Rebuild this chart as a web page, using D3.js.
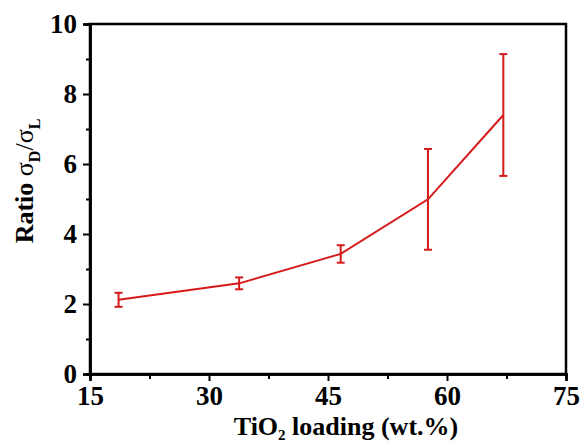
<!DOCTYPE html>
<html><head><meta charset="utf-8">
<script src="https://cdn.jsdelivr.net/npm/d3@7"></script>
<style>body{margin:0;background:#fff}</style>
</head><body>
<svg id="c" width="582" height="448"></svg>
<script>
const loading = [18.6, 33.8, 46.6, 57.6, 67.1];
const ratio = [2.12, 2.59, 3.43, 4.99, 7.40];
const errs = [0.2, 0.17, 0.25, 1.44, 1.74];
const xTicks = [15, 30, 45, 60, 75];
const yTicks = [0, 2, 4, 6, 8, 10];

const svg = d3.select("#c");
const m = {l: 90, t: 24, r: 566, b: 374};
const x = d3.scaleLinear().domain([15, 75]).range([m.l, m.r]);
const y = d3.scaleLinear().domain([0, 10]).range([m.b, m.t]);
const font = "'Liberation Serif','Times New Roman',serif";

// frame
svg.append("rect").attr("x", m.l).attr("y", m.t).attr("width", m.r - m.l).attr("height", m.b - m.t)
  .attr("fill", "none").attr("stroke", "#000").attr("stroke-width", 2.5);

// x axis
const xa = svg.append("g").attr("transform", `translate(0,${m.b})`)
  .call(d3.axisBottom(x).tickValues(xTicks).tickSize(7).tickPadding(5).tickFormat(d3.format("d")));
xa.append("g").call(d3.axisBottom(x).tickValues(d3.range(22.5, 75, 15)).tickSize(5).tickFormat(""));
// y axis
const ya = svg.append("g").attr("transform", `translate(${m.l},0)`)
  .call(d3.axisLeft(y).tickValues(yTicks).tickSize(7).tickPadding(6).tickFormat(d3.format("d")));
ya.append("g").call(d3.axisLeft(y).tickValues(d3.range(1, 10, 2)).tickSize(4).tickFormat(""));
svg.selectAll(".domain").attr("stroke", "#000").attr("stroke-width", 2.5);
svg.selectAll(".tick line").attr("stroke", "#000").attr("stroke-width", 2);
svg.selectAll(".tick text").attr("font-family", font).attr("font-weight", "bold")
  .attr("font-size", 27).attr("fill", "#000");

const red = "#d41a1a";
const data = loading.map((v, i) => ({x: v, y: ratio[i], e: errs[i]}));
// line
svg.append("path").datum(data)
  .attr("d", d3.line().x(d => x(d.x)).y(d => y(d.y)))
  .attr("fill", "none").attr("stroke", red).attr("stroke-width", 2);
// error bars
const eb = svg.append("g").selectAll("g").data(data).join("g").attr("stroke", red).attr("stroke-width", 2);
eb.append("line").attr("x1", d => x(d.x)).attr("x2", d => x(d.x)).attr("y1", d => y(d.y - d.e)).attr("y2", d => y(d.y + d.e));
eb.append("line").attr("x1", d => x(d.x) - 4).attr("x2", d => x(d.x) + 4).attr("y1", d => y(d.y + d.e)).attr("y2", d => y(d.y + d.e));
eb.append("line").attr("x1", d => x(d.x) - 4).attr("x2", d => x(d.x) + 4).attr("y1", d => y(d.y - d.e)).attr("y2", d => y(d.y - d.e));

// x title
const xt = svg.append("text").attr("x", 346).attr("y", 435).attr("text-anchor", "middle")
  .attr("font-family", font).attr("font-weight", "bold").attr("font-size", 26);
xt.append("tspan").text("TiO");
xt.append("tspan").text("2").attr("font-size", 15).attr("dy", 5);
xt.append("tspan").text(" loading (wt.%)").attr("dy", -5);

// y title
const yt = svg.append("text").attr("transform", "translate(33,181) rotate(-90)").attr("text-anchor", "middle")
  .attr("font-family", font).attr("font-weight", "bold").attr("font-size", 26);
yt.append("tspan").text("Ratio ");
yt.append("tspan").text("σ").attr("font-weight", "normal");
yt.append("tspan").text("D").attr("font-size", 16).attr("dy", 7);
yt.append("tspan").text("/σ").attr("font-weight", "normal").attr("dy", -7);
yt.append("tspan").text("L").attr("font-size", 16).attr("dy", 7);
</script>
</body></html>
